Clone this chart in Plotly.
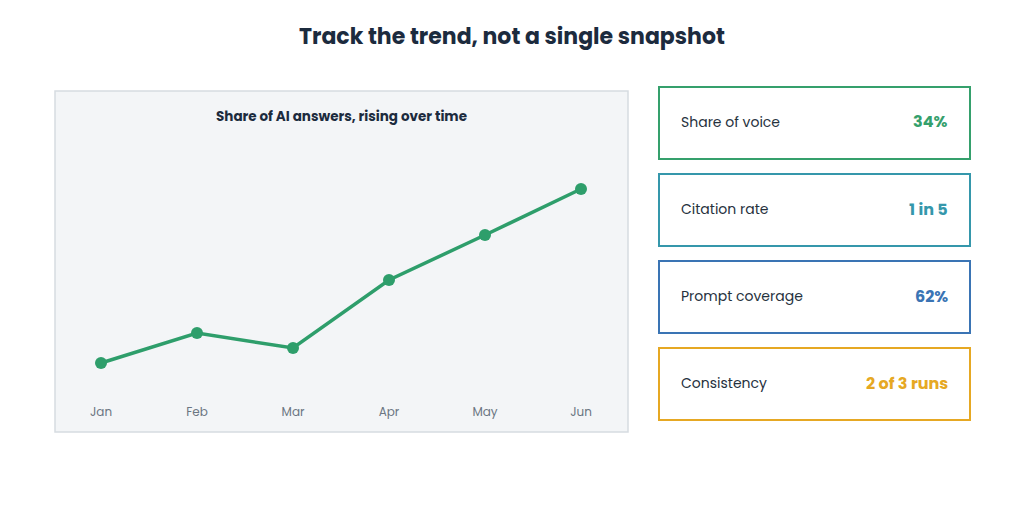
import plotly.graph_objects as go

W, H = 1024, 516
months = ["Jan", "Feb", "Mar", "Apr", "May", "Jun"]
share = [14, 20, 17, 30.6, 39.6, 48.8]

card_labels = ["Share of voice", "Citation rate", "Prompt coverage", "Consistency"]
card_values = ["34%", "1 in 5", "62%", "2 of 3 runs"]
card_colors = ["#35a06c", "#3597ab", "#3a74b4", "#e6a823"]

FONT = "Poppins, Inter, Lato, sans-serif"
# page body has an 8px margin, so shift everything back by it
px_x = lambda x: (x - 8) / W
px_y = lambda y: 1 - (y - 8) / H

fig = go.Figure()
fig.add_trace(go.Scatter(
    x=months, y=share, mode="lines+markers",
    line=dict(color="#2e9e6b", width=3.5),
    marker=dict(color="#2e9e6b", size=12),
    hoverinfo="skip",
))

shapes = [dict(type="rect", xref="paper", yref="paper",
               x0=px_x(55), x1=px_x(628), y0=px_y(432), y1=px_y(91),
               fillcolor="#f3f5f7", line=dict(color="#d6dbe1", width=1.5), layer="below")]
annotations = [
    dict(text="<b>Track the trend, not a single snapshot</b>", x=px_x(512), y=px_y(37),
         xref="paper", yref="paper", xanchor="center", yanchor="middle", showarrow=False,
         font=dict(size=22, color="#1c2b3e", family=FONT)),
    dict(text="<b>Share of AI answers, rising over time</b>", x=px_x(341), y=px_y(116),
         xref="paper", yref="paper", xanchor="center", yanchor="middle", showarrow=False,
         font=dict(size=13.5, color="#1c2b3e", family=FONT)),
]

tops = [87, 174, 261, 348]
for label, val, col, top in zip(card_labels, card_values, card_colors, tops):
    shapes.append(dict(type="rect", xref="paper", yref="paper",
                       x0=px_x(659), x1=px_x(970), y0=px_y(top + 72), y1=px_y(top),
                       fillcolor="white", line=dict(color=col, width=2)))
    yc = px_y(top + 35)
    annotations.append(dict(text=label, x=px_x(679), y=yc, xref="paper", yref="paper",
                            xanchor="left", yanchor="middle", showarrow=False,
                            font=dict(size=14, color="#26313d", family=FONT)))
    annotations.append(dict(text=f"<b>{val}</b>", x=px_x(950), y=yc, xref="paper", yref="paper",
                            xanchor="right", yanchor="middle", showarrow=False,
                            font=dict(size=16, color=col, family=FONT)))

fig.update_layout(
    width=W, height=H, margin=dict(l=0, r=0, t=0, b=0),
    paper_bgcolor="white", plot_bgcolor="rgba(0,0,0,0)",
    showlegend=False, shapes=shapes, annotations=annotations,
    xaxis=dict(domain=[px_x(53), px_x(629)], range=[-0.5, 5.5], showgrid=False,
               zeroline=False, showline=False, ticks="", ticklabelstandoff=8,
               tickfont=dict(size=12, color="#6b7682", family=FONT)),
    yaxis=dict(domain=[px_y(395), px_y(140)], range=[7.6, 58.6], visible=False),
)
fig.write_html("out.html")
